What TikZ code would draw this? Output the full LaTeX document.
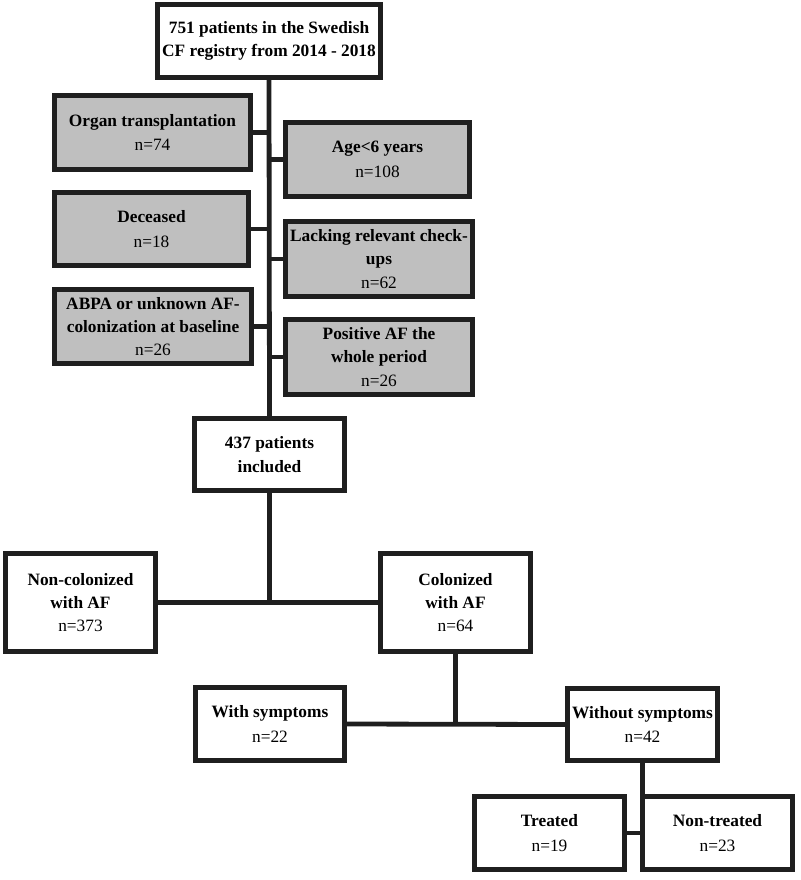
\documentclass[tikz,border=0pt]{standalone}
\usepackage{fontspec}
\setmainfont{Liberation Serif}
\usetikzlibrary{shadows}
\colorlet{boxline}{black!88}
\colorlet{boxgray}{black!25}
\tikzstyle{flow}=[draw=boxline,line width=3.6pt,align=center,inner sep=1pt,
  font=\fontsize{13}{17.5}\selectfont]
\tikzstyle{whitebox}=[flow,fill=white]
\tikzstyle{graybox}=[flow,fill=boxgray,drop shadow={opacity=0.15,shadow xshift=1pt,shadow yshift=-1.5pt}]
\tikzstyle{link}=[boxline,line width=3.6pt]
\tikzset{sz/.style 2 args={minimum width=#1*0.75pt,minimum height=#2*0.75pt}}

\begin{document}
\begin{tikzpicture}[x=0.75pt,y=-0.75pt]
  \useasboundingbox (0,0) rectangle (800,880);

  % REGISTRY
  \node[whitebox,sz={223}{73}] (reg) at (269,41)
    {\textbf{751 patients in the Swedish}\\\textbf{CF registry from 2014 - 2018}};

  % EXCLUDED
  \node[graybox,sz={196}{74}] (trans) at (152.5,132.5) {\textbf{Organ transplantation}\\[1pt]n=74};
  \node[graybox,sz={194}{73}] (dec) at (151.5,229) {\textbf{Deceased}\\[1pt]n=18};
  \node[graybox,sz={197}{74}] (abpa) at (153,326.5)
    {\textbf{ABPA or unknown AF-}\\\textbf{colonization at baseline}\\n=26};
  \node[graybox,sz={184}{74}] (age) at (377.5,159.5) {\textbf{Age<6 years}\\[1pt]n=108};
  \node[graybox,sz={187}{75}] (lack) at (379,259)
    {\textbf{Lacking relevant check-}\\\textbf{ups}\\n=62};
  \node[graybox,sz={187}{75}] (pos) at (379,357)
    {\textbf{Positive AF the}\\\textbf{whole period}\\n=26};

  % INCLUDED
  \node[whitebox,sz={150}{72}] (incl) at (269.5,454.5) {\textbf{437 patients}\\\textbf{included}};
  \node[whitebox,sz={150}{98}] (noncol) at (80.5,602.5) {\textbf{Non-colonized}\\\textbf{with AF}\\n=373};
  \node[whitebox,sz={150}{98}] (col) at (455.5,602.5) {\textbf{Colonized}\\\textbf{with AF}\\n=64};
  \node[whitebox,sz={149}{73}] (sympt) at (270,724) {\textbf{With symptoms}\\[1pt]n=22};
  \node[whitebox,sz={150}{72}] (nosympt) at (642.5,724.5) {\textbf{Without symptoms}\\[1pt]n=42};
  \node[whitebox,sz={150}{73}] (treat) at (549.5,833) {\textbf{Treated}\\[1pt]n=19};
  \node[whitebox,sz={150}{73}] (nontreat) at (717.5,833) {\textbf{Non-treated}\\[1pt]n=23};

  % LINKS
  \draw[link] (reg.south) -- (incl.north);
  \foreach \b in {trans,dec,abpa}
    \draw[link] (\b.east) -- (\b.east -| reg.south);
  \foreach \b in {age,lack,pos}
    \draw[link] (\b.west) -- (\b.west -| reg.south);
  \draw[link] (noncol.east) -- (col.west);
  \draw[link] (incl.south) -- (incl.south |- noncol.east);
  \draw[link] (sympt.east) -- (nosympt.west);
  \draw[link] (col.south) -- (col.south |- sympt.east);
  \draw[link] (treat.east) -- (nontreat.west);
  \draw[link] (nosympt.south) -- (nosympt.south |- nontreat.north);
\end{tikzpicture}
\end{document}
